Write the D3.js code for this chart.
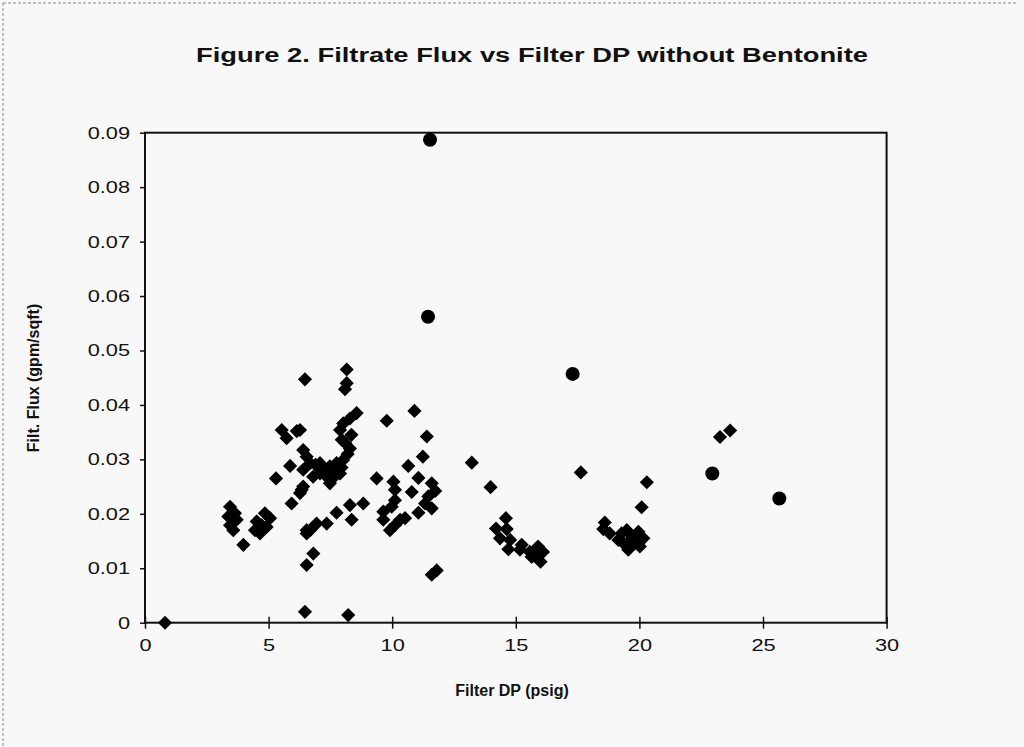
<body style="margin:0;background:#f8f8f8">
	<div id="chart"></div>
</body>

<script src="https://cdnjs.cloudflare.com/ajax/libs/d3/7.8.5/d3.min.js"></script>

<script>
  // data: filter DP (psig) and filtrate flux (gpm/sqft)
  var diamondDP = [0.81,3.44,3.37,3.64,3.44,3.57,3.71,3.98,4.85,5.06,4.52,4.45,4.65,4.92,4.72,5.30,5.53,5.73,6.14,5.87,5.93,6.34,6.40,6.40,6.54,6.47,6.54,6.54,6.54,6.81,6.47,8.22,6.68,6.94,7.35,7.75,8.29,8.83,8.36,8.16,8.16,8.09,8.56,8.29,8.02,7.89,7.96,8.29,8.02,7.75,7.48,7.08,6.68,6.27,7.48,7.35,6.40,6.27,7.89,7.08,6.80,7.60,8.10,8.20,7.95,7.20,6.90,8.35,7.70,
    9.37,9.78,10.90,11.40,11.24,10.65,11.06,11.60,11.74,10.79,11.46,11.33,11.60,11.06,10.05,10.11,10.11,9.98,9.64,9.64,9.91,10.32,10.52,10.11,11.80,11.60,13.22,13.98,
    14.60,14.20,14.63,14.36,14.77,14.70,15.24,15.17,15.57,15.90,16.10,15.85,16.00,15.64,17.63,
    18.60,18.54,18.80,19.28,19.49,19.96,19.35,19.55,19.82,20.16,19.69,19.15,20.02,20.09,20.30,23.26,23.67];
  var diamondFlux = [0.0000,0.0213,0.0195,0.0201,0.0179,0.0170,0.0189,0.0143,0.0201,0.0192,0.0186,0.0170,0.0164,0.0176,0.0179,0.0265,0.0354,0.0339,0.0352,0.0288,0.0219,0.0244,0.0281,0.0317,0.0305,0.0447,0.0170,0.0164,0.0106,0.0127,0.0020,0.0014,0.0170,0.0182,0.0182,0.0202,0.0216,0.0219,0.0189,0.0465,0.0440,0.0429,0.0385,0.0375,0.0366,0.0354,0.0336,0.0320,0.0299,0.0293,0.0287,0.0293,0.0293,0.0354,0.0256,0.0268,0.0250,0.0238,0.0274,0.0274,0.0268,0.0281,0.0330,0.0310,0.0285,0.0282,0.0290,0.0345,0.0270,
    0.0265,0.0371,0.0389,0.0342,0.0305,0.0288,0.0266,0.0256,0.0242,0.0240,0.0232,0.0219,0.0210,0.0202,0.0259,0.0244,0.0225,0.0213,0.0204,0.0189,0.0170,0.0189,0.0192,0.0179,0.0096,0.0088,0.0294,0.0249,
    0.0192,0.0173,0.0172,0.0155,0.0152,0.0135,0.0143,0.0134,0.0130,0.0140,0.0130,0.0121,0.0112,0.0121,0.0276,
    0.0184,0.0172,0.0164,0.0164,0.0170,0.0167,0.0146,0.0134,0.0146,0.0155,0.0155,0.0152,0.0140,0.0212,0.0258,0.0341,0.0353];
  var circleDP = [11.53, 11.45, 17.30, 22.95, 25.66];
  var circleFlux = [0.0887, 0.0562, 0.0457, 0.0274, 0.0228];
  var xTicks = [0, 5, 10, 15, 20, 25, 30];
  var yTicks = [0, 0.01, 0.02, 0.03, 0.04, 0.05, 0.06, 0.07, 0.08, 0.09];

  var width = 1024;
  var height = 747;
  var plotLeft = 145, plotRight = 886.6, plotTop = 132.7, plotBottom = 622.7;

  var svg = d3.select("#chart")
	.append("svg")
	.attr("width", width)
	.attr("height", height)
	.style("display", "block");

  // faint scanned page border
  svg.append("line").attr("x1", 3).attr("y1", 3).attr("x2", 1018).attr("y2", 3)
	.attr("stroke", "#888").attr("stroke-width", 1).attr("stroke-dasharray", "3,2");
  svg.append("line").attr("x1", 3).attr("y1", 3).attr("x2", 3).attr("y2", 747)
	.attr("stroke", "#888").attr("stroke-width", 1).attr("stroke-dasharray", "3,2");

  var xScale = d3.scaleLinear().domain([0, 30]).range([plotLeft, plotRight]);
  var yScale = d3.scaleLinear().domain([0, 0.09]).range([plotBottom, plotTop]);

  // the scan is stretched sideways, so widen glyphs a bit
  function stretch(sel, k) {
	sel.each(function() {
	  var w = this.getComputedTextLength();
	  d3.select(this).attr("textLength", w * k).attr("lengthAdjust", "spacingAndGlyphs");
	});
  }

  svg.append("text")
	.attr("x", 532)
	.attr("y", 62)
	.attr("text-anchor", "middle")
	.attr("font-family", "Liberation Sans, Arial, sans-serif")
	.attr("font-weight", "bold")
	.attr("font-size", "20px")
	.attr("textLength", 672)
	.attr("lengthAdjust", "spacingAndGlyphs")
	.attr("fill", "#111")
	.text("Figure 2. Filtrate Flux vs Filter DP without Bentonite");

  // plot frame
  svg.append("rect")
	.attr("x", plotLeft).attr("y", plotTop)
	.attr("width", plotRight - plotLeft).attr("height", plotBottom - plotTop)
	.attr("fill", "none").attr("stroke", "#111").attr("stroke-width", 2);

  var yAxis = svg.append("g")
	.attr("transform", "translate(" + plotLeft + ",0)")
	.call(d3.axisLeft(yScale).tickValues(yTicks).tickSize(5).tickPadding(10)
	  .tickFormat(function(d) { return d === 0 ? "0" : d3.format(".2f")(d); }));
  var xAxis = svg.append("g")
	.attr("transform", "translate(0," + plotBottom + ")")
	.call(d3.axisBottom(xScale).tickValues(xTicks).tickSize(6).tickPadding(10));
  [xAxis, yAxis].forEach(function(g) {
	g.select(".domain").remove();
	g.selectAll("line").attr("stroke", "#111").attr("stroke-width", 1.5);
	g.selectAll("text")
	  .attr("font-family", "Liberation Sans, Arial, sans-serif")
	  .attr("font-size", "17px")
	  .attr("fill", "#111");
	stretch(g.selectAll("text"), 1.28);
  });
  xAxis.selectAll("line").attr("y1", -6);

  svg.append("text")
	.attr("x", 512)
	.attr("y", 696)
	.attr("text-anchor", "middle")
	.attr("font-family", "Liberation Sans, Arial, sans-serif")
	.attr("font-weight", "bold")
	.attr("font-size", "16px")
	.attr("fill", "#111")
	.text("Filter DP (psig)");

  svg.append("text")
	.attr("transform", "translate(39,378) rotate(-90)")
	.attr("text-anchor", "middle")
	.attr("font-family", "Liberation Sans, Arial, sans-serif")
	.attr("font-weight", "bold")
	.attr("font-size", "16px")
	.attr("fill", "#111")
	.text("Filt. Flux (gpm/sqft)");

  var diamonds = diamondDP.map(function(d, i) { return [d, diamondFlux[i]]; });
  var circles = circleDP.map(function(d, i) { return [d, circleFlux[i]]; });

  svg.append("g").selectAll("path")
	.data(diamonds)
	.enter().append("path")
	.attr("d", d3.symbol().type(d3.symbolSquare).size(100))
	.attr("transform", function(d) { return "translate(" + xScale(d[0]) + "," + yScale(d[1]) + ") rotate(45)"; })
	.attr("fill", "#000");

  svg.append("g").selectAll("circle")
	.data(circles)
	.enter().append("circle")
	.attr("cx", function(d) { return xScale(d[0]); })
	.attr("cy", function(d) { return yScale(d[1]); })
	.attr("r", 7)
	.attr("fill", "#000");
</script>
